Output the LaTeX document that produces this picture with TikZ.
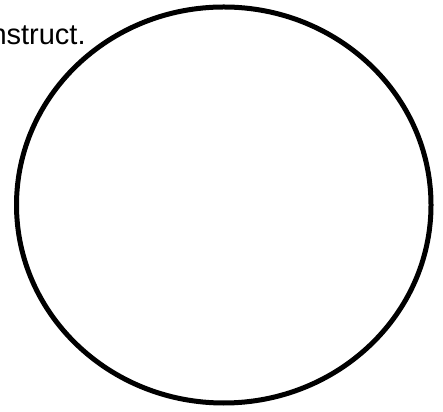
\documentclass[tikz,border=0pt]{standalone}
\usepackage{fontspec}
\setmainfont{Liberation Sans}
\begin{document}
\begin{tikzpicture}[x=1pt, y=1pt]
  % canvas
  \useasboundingbox (0,0) rectangle (443,411);

  % the ring
  \coordinate (O) at (223.75,206);
  \draw[line width=5pt] (O) ellipse [x radius=207.25, y radius=198];

  % cut-off caption
  \begin{scope}
    \clip (0,0) rectangle (443,411);
    \node[anchor=base east, inner sep=0pt, font=\fontsize{29}{33}\selectfont] (cap) at (85.8,366) {nstruct.};
  \end{scope}
\end{tikzpicture}
\end{document}
